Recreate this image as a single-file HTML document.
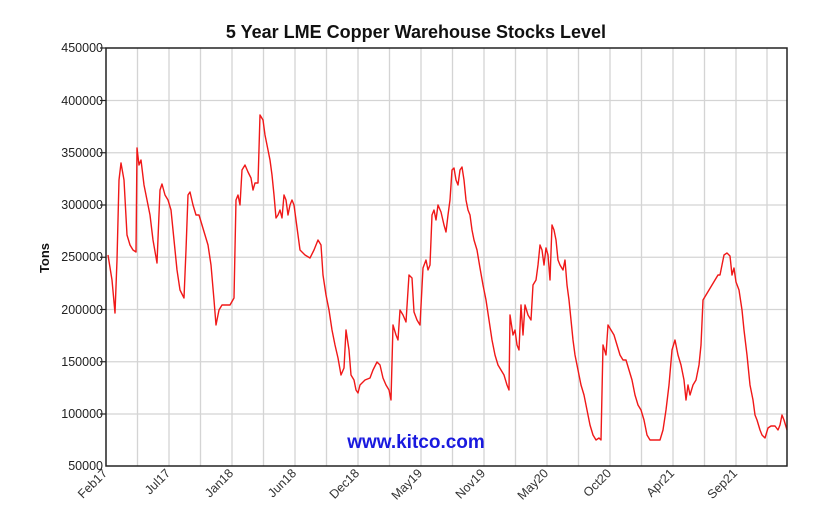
<!DOCTYPE html>
<html><head><style>body{margin:0;background:#fff}svg{display:block;font-family:"Liberation Sans",Arial,sans-serif}</style></head><body>
<svg width="833" height="528" viewBox="0 0 833 528">
<text x="416" y="38" font-size="18" font-weight="bold" text-anchor="middle" fill="#111">5 Year LME Copper Warehouse Stocks Level</text>
<g stroke="#d4d4d4" stroke-width="1.3">
<line x1="106" y1="100.5" x2="787" y2="100.5"/><line x1="106" y1="152.75" x2="787" y2="152.75"/><line x1="106" y1="205" x2="787" y2="205"/><line x1="106" y1="257.25" x2="787" y2="257.25"/><line x1="106" y1="309.5" x2="787" y2="309.5"/><line x1="106" y1="361.75" x2="787" y2="361.75"/><line x1="106" y1="414" x2="787" y2="414"/>
<line x1="137.5" y1="48" x2="137.5" y2="466"/><line x1="169" y1="48" x2="169" y2="466"/><line x1="200.5" y1="48" x2="200.5" y2="466"/><line x1="232" y1="48" x2="232" y2="466"/><line x1="263.5" y1="48" x2="263.5" y2="466"/><line x1="295" y1="48" x2="295" y2="466"/><line x1="326.5" y1="48" x2="326.5" y2="466"/><line x1="358" y1="48" x2="358" y2="466"/><line x1="389.5" y1="48" x2="389.5" y2="466"/><line x1="421" y1="48" x2="421" y2="466"/><line x1="452.5" y1="48" x2="452.5" y2="466"/><line x1="484" y1="48" x2="484" y2="466"/><line x1="515.5" y1="48" x2="515.5" y2="466"/><line x1="547" y1="48" x2="547" y2="466"/><line x1="578.5" y1="48" x2="578.5" y2="466"/><line x1="610" y1="48" x2="610" y2="466"/><line x1="641.5" y1="48" x2="641.5" y2="466"/><line x1="673" y1="48" x2="673" y2="466"/><line x1="704.5" y1="48" x2="704.5" y2="466"/><line x1="736" y1="48" x2="736" y2="466"/><line x1="767" y1="48" x2="767" y2="466"/>
</g>
<text x="416" y="448" font-size="19" font-weight="bold" fill="#1a1adf" text-anchor="middle">www.kitco.com</text>
<polyline fill="none" stroke="#f01818" stroke-width="1.4" stroke-linejoin="round" points="108,255 112,280 115,313 117,260 119,180 121,163 124,180 127,235 130,245 133,250 136,252 137,148 139,165 141,160 144,185 147,200 150,215 153,240 157,263 160,190 162,184 165,195 168,200 171,210 174,240 177,270 180,290 184,298 186,250 188,195 190,192 193,205 196,215 199,215 202,225 205,235 208,245 211,265 214,300 216,325 219,310 222,305 226,305 230,305 234,298 236,200 238,195 240,205 242,170 245,165 248,172 251,178 253,190 255,183 258,183 260,115 263,120 265,135 268,150 270,160 272,175 274,195 276,218 278,215 280,210 282,218 284,195 286,200 288,215 290,205 292,200 294,205 296,220 298,235 300,250 305,255 310,258 314,250 318,240 321,245 323,275 326,295 329,310 332,330 335,345 338,358 341,375 344,368 346,330 349,350 351,375 354,380 356,390 358,393 360,385 365,380 370,378 373,370 377,362 380,365 383,378 386,385 389,390 391,400 393,325 396,335 398,340 400,310 403,315 406,322 409,275 412,278 414,312 417,320 420,325 423,268 426,260 428,270 430,265 432,215 434,210 436,220 438,205 441,212 444,225 446,232 448,215 450,200 452,170 454,168 456,180 458,185 460,170 462,167 464,180 466,200 468,210 470,215 472,230 474,240 477,250 480,268 483,285 486,300 489,320 492,340 495,355 498,365 501,370 504,375 507,385 509,390 510,315 513,335 515,330 517,345 519,350 521,305 523,335 525,305 528,315 531,320 533,285 536,280 538,265 540,245 542,250 544,265 546,248 548,255 550,280 552,225 554,230 556,240 558,260 560,265 563,270 565,260 567,285 569,300 571,320 573,340 575,355 578,370 581,385 584,395 587,410 590,425 593,435 596,440 599,438 601,440 603,345 606,355 608,325 611,330 614,335 617,345 620,355 623,360 626,360 629,370 632,380 635,395 638,405 641,410 644,420 647,435 650,440 655,440 660,440 663,430 666,410 669,385 672,350 675,340 678,355 681,365 684,380 686,400 688,385 690,395 693,385 696,380 699,365 701,345 703,300 706,295 709,290 712,285 715,280 718,275 720,275 722,265 724,255 727,253 730,256 732,275 734,268 736,282 739,290 742,310 744,330 747,355 750,385 753,400 755,415 757,420 760,430 762,435 765,438 768,428 771,426 775,426 778,430 780,425 782,415 784,420 787,430"/>
<rect x="106" y="48" width="681" height="418" fill="none" stroke="#222" stroke-width="1.5"/>
<g stroke="#222" stroke-width="1.2"><line x1="100" y1="48" x2="106" y2="48"/><line x1="100" y1="100.5" x2="106" y2="100.5"/><line x1="100" y1="152.75" x2="106" y2="152.75"/><line x1="100" y1="205" x2="106" y2="205"/><line x1="100" y1="257.25" x2="106" y2="257.25"/><line x1="100" y1="309.5" x2="106" y2="309.5"/><line x1="100" y1="361.75" x2="106" y2="361.75"/><line x1="100" y1="414" x2="106" y2="414"/></g>
<g font-size="12.5" fill="#222" text-anchor="end">
<text x="103" y="52">450000</text><text x="103" y="105">400000</text><text x="103" y="157">350000</text><text x="103" y="209">300000</text><text x="103" y="261">250000</text><text x="103" y="314">200000</text><text x="103" y="366">150000</text><text x="103" y="418">100000</text><text x="103" y="470">50000</text>
</g>
<text transform="translate(49,258) rotate(-90)" font-size="13" font-weight="bold" text-anchor="middle" fill="#111">Tons</text>
<g font-size="12.5" fill="#333" text-anchor="end">
<text transform="translate(108,474) rotate(-45)">Feb17</text>
<text transform="translate(171,474) rotate(-45)">Jul17</text>
<text transform="translate(234,474) rotate(-45)">Jan18</text>
<text transform="translate(297,474) rotate(-45)">Jun18</text>
<text transform="translate(360,474) rotate(-45)">Dec18</text>
<text transform="translate(423,474) rotate(-45)">May19</text>
<text transform="translate(486,474) rotate(-45)">Nov19</text>
<text transform="translate(549,474) rotate(-45)">May20</text>
<text transform="translate(612,474) rotate(-45)">Oct20</text>
<text transform="translate(675,474) rotate(-45)">Apr21</text>
<text transform="translate(738,474) rotate(-45)">Sep21</text>
</g>
</svg>
</body></html>
